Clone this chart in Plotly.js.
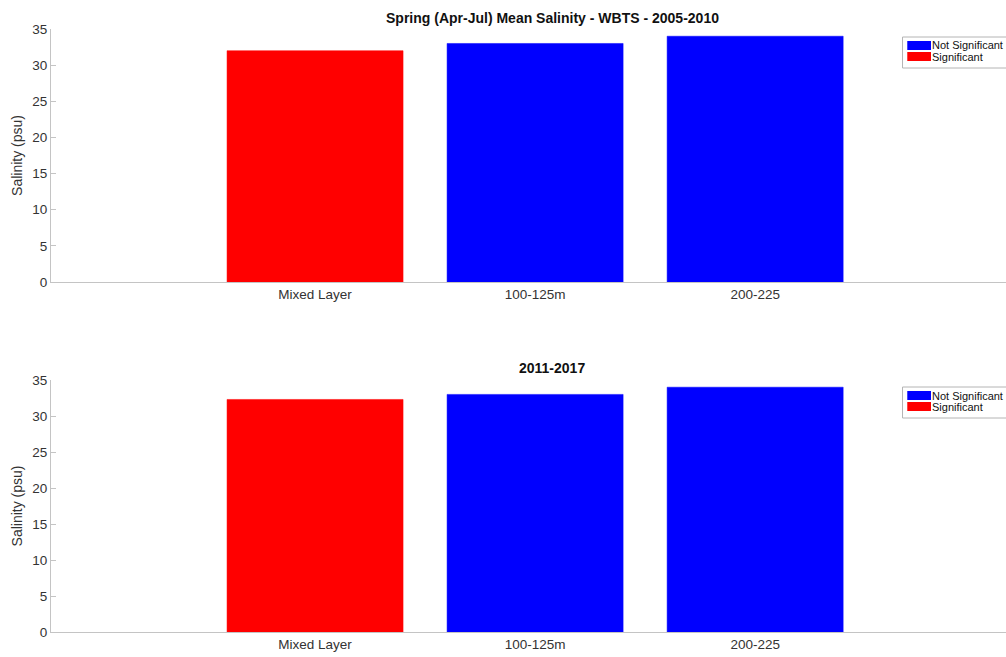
<!DOCTYPE html>
<html>
<head>
<meta charset="utf-8">
<script src="https://cdn.plot.ly/plotly-3.0.1.min.js"></script>
<style>
  html, body { margin: 0; padding: 0; background: #fff; overflow: hidden; }
  #chart { width: 1006px; height: 657px; }
</style>
</head>
<body>
<div id="chart"></div>
<script>
// Depth layers shown on the x axis
const layers = ['Mixed Layer', '100-125m', '200-225'];

// Mean spring salinity (psu), 2005-2010
const sal0510Significant = ['Mixed Layer'];
const sal0510SignificantVals = [32.0];
const sal0510NotSig = ['100-125m', '200-225'];
const sal0510NotSigVals = [33.0, 34.0];

// Mean spring salinity (psu), 2011-2017
const sal1117Significant = ['Mixed Layer'];
const sal1117SignificantVals = [32.3];
const sal1117NotSig = ['100-125m', '200-225'];
const sal1117NotSigVals = [33.0, 34.0];

const yTicks = [0, 5, 10, 15, 20, 25, 30, 35];
const legendNames = ['Not Significant', 'Significant'];

const RED = '#ff0000';
const BLUE = '#0000ff';
const FONT = 'Liberation Sans, Arial, Helvetica, sans-serif';

const W = 1006, H = 657;
const px = v => v / W;
const py = v => 1 - v / H;

function barTrace(x, y, color, name, xa, ya) {
  return {
    type: 'bar', x: x, y: y, name: name,
    xaxis: xa, yaxis: ya,
    width: 0.8,
    marker: { color: color, line: { color: color, width: 0.5 } },
    hoverinfo: 'x+y'
  };
}

const traces = [
  barTrace(sal0510NotSig, sal0510NotSigVals, BLUE, legendNames[0], 'x', 'y'),
  barTrace(sal0510Significant, sal0510SignificantVals, RED, legendNames[1], 'x', 'y'),
  barTrace(sal1117NotSig, sal1117NotSigVals, BLUE, legendNames[0], 'x2', 'y2'),
  barTrace(sal1117Significant, sal1117SignificantVals, RED, legendNames[1], 'x2', 'y2')
];

function xAxis(anchor) {
  return {
    type: 'category',
    categoryorder: 'array',
    categoryarray: layers,
    range: [-1.2, 3.14],
    anchor: anchor,
    domain: [0, 1],
    showline: true, linecolor: '#c4c4c4', linewidth: 1,
    ticks: '', showgrid: false, zeroline: false,
    tickfont: { family: FONT, size: 13.5, color: '#333' },
    fixedrange: true
  };
}

function yAxis(anchor, dom) {
  return {
    anchor: anchor,
    domain: dom,
    range: [0, 35],
    tickvals: yTicks,
    ticktext: yTicks.map(String),
    showline: true, linecolor: '#c4c4c4', linewidth: 1,
    ticks: 'inside', ticklen: 5, tickcolor: '#c4c4c4',
    showgrid: false, zeroline: false,
    tickfont: { family: FONT, size: 13.5, color: '#333' },
    title: { text: 'Salinity (psu)', standoff: 6,
             font: { family: FONT, size: 14, color: '#333' } },
    fixedrange: true
  };
}

// Boxed legend with wide colour swatches, drawn in pixel positions
const shapes = [];
const annotations = [];
function addLegend(top) {
  shapes.push({ type: 'rect', xref: 'paper', yref: 'paper',
    x0: px(897), x1: px(1012), y0: py(top), y1: py(top + 31),
    line: { color: '#b4b4b4', width: 1 }, fillcolor: '#fff', layer: 'above' });
  [BLUE, RED].forEach((c, i) => {
    const y0 = top + 4 + i * 11;
    shapes.push({ type: 'rect', xref: 'paper', yref: 'paper',
      x0: px(902), x1: px(927), y0: py(y0), y1: py(y0 + 9),
      line: { width: 0 }, fillcolor: c, layer: 'above' });
    annotations.push({ text: legendNames[i], xref: 'paper', yref: 'paper',
      x: px(927), y: py(y0 + 4.5), xanchor: 'left', yanchor: 'middle',
      borderpad: 0,
      showarrow: false, font: { family: FONT, size: 11, color: '#111' } });
  });
}
addLegend(37);
addLegend(387);

annotations.push(
  { text: '<b>Spring (Apr-Jul) Mean Salinity - WBTS - 2005-2010</b>',
    xref: 'paper', yref: 'paper', x: px(528), y: py(18),
    xanchor: 'center', yanchor: 'middle', showarrow: false,
    font: { family: FONT, size: 14, color: '#111' } },
  { text: '<b>2011-2017</b>',
    xref: 'paper', yref: 'paper', x: px(528), y: py(368),
    xanchor: 'center', yanchor: 'middle', showarrow: false,
    font: { family: FONT, size: 14, color: '#111' } }
);

const layout = {
  width: W, height: H,
  margin: { l: 51, r: 0, t: 0, b: 0, autoexpand: false },
  paper_bgcolor: '#fff', plot_bgcolor: '#fff',
  barmode: 'overlay',
  showlegend: false,
  xaxis: xAxis('y'),
  yaxis: yAxis('x', [py(282), py(29)]),
  xaxis2: xAxis('y2'),
  yaxis2: yAxis('x2', [py(632), py(380)]),
  shapes: shapes,
  annotations: annotations
};

Plotly.newPlot('chart', traces, layout, { displayModeBar: false, staticPlot: true });
</script>
</body>
</html>
